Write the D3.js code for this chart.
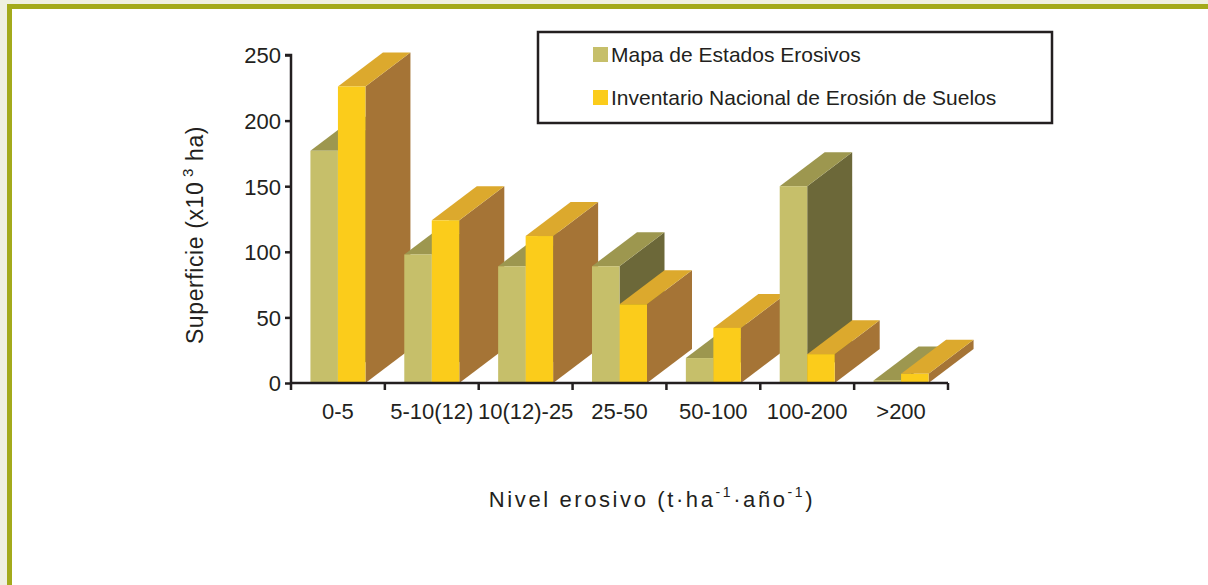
<!DOCTYPE html>
<html>
<head>
<meta charset="utf-8">
<script src="https://cdn.jsdelivr.net/npm/d3@7"></script>
<style>
  html, body { margin: 0; padding: 0; background: #eff0e1; }
  svg { display: block; font-family: "Liberation Sans", Arial, sans-serif; }
</style>
</head>
<body>
<svg id="chart" width="1208" height="585"></svg>
<script>
// Erosion classes (t·ha-1·año-1)
const categories = ["0-5", "5-10(12)", "10(12)-25", "25-50", "50-100", "100-200", ">200"];
// Surface area, thousands of ha
const mapaEstados = [177, 98, 89, 89, 19, 150, 2];
const inventario = [226, 124, 112, 60, 42, 22, 7];
const seriesNames = ["Mapa de Estados Erosivos", "Inventario Nacional de Erosión de Suelos"];
const yTicks = [0, 50, 100, 150, 200, 250];

const palette = [
  { front: "#c6bf6a", top: "#9d974f", side: "#6c6839" },
  { front: "#fbcc1b", top: "#dca92d", side: "#a57436" }
];

const svg = d3.select("#chart");

// page frame
svg.append("rect").attr("x", 0).attr("y", 0).attr("width", 1208).attr("height", 585).attr("fill", "#eff0e1");
svg.append("rect").attr("x", 7).attr("y", 4).attr("width", 1201).attr("height", 581).attr("fill", "#a3aa1b");
svg.append("rect").attr("x", 12).attr("y", 9).attr("width", 1196).attr("height", 576).attr("fill", "#ffffff");

const x0 = 291, x1 = 948, yBase = 383, yTop = 55;
const x = d3.scaleBand().domain(categories).range([x0, x1]).paddingInner(0).paddingOuter(0);
const y = d3.scaleLinear().domain([0, 250]).range([yBase, yTop]);
const groupW = 55;
const sub = d3.scaleBand().domain([0, 1]).range([0, groupW]).padding(0);
const depth = { dx: 45, dy: -34 };

const bars = svg.append("g");
categories.forEach((c, i) => {
  const vals = [mapaEstados[i], inventario[i]];
  const gx = x(c) + (x.bandwidth() - groupW) / 2;
  vals.forEach((v, s) => {
    const col = palette[s];
    const left = gx + sub(s);
    const right = left + sub.bandwidth();
    const top = y(v);
    const bottom = y(0);
    const g = bars.append("g");
    // side face
    g.append("path")
      .attr("d", `M${right},${bottom} L${right + depth.dx},${bottom + depth.dy} L${right + depth.dx},${top + depth.dy} L${right},${top} Z`)
      .attr("fill", col.side);
    // top face
    g.append("path")
      .attr("d", `M${left},${top} L${left + depth.dx},${top + depth.dy} L${right + depth.dx},${top + depth.dy} L${right},${top} Z`)
      .attr("fill", col.top);
    // front face
    g.append("rect")
      .attr("x", left).attr("y", top)
      .attr("width", right - left).attr("height", bottom - top)
      .attr("fill", col.front);
  });
});

// y axis
const yAxis = d3.axisLeft(y).tickValues(yTicks).tickSize(6).tickPadding(4);
const gy = svg.append("g").attr("transform", `translate(${x0},0)`).call(yAxis);
gy.select(".domain").attr("stroke", "#231f20").attr("stroke-width", 2.5).attr("d", `M-6,${yTop}H0V${yBase}`);
gy.selectAll(".tick line").attr("stroke", "#231f20").attr("stroke-width", 2.5);
gy.selectAll(".tick text").attr("fill", "#231f20").attr("font-size", 22).attr("dy", "0.36em");

// x axis
const xAxis = d3.axisBottom(x).tickSize(0).tickPadding(20);
const gx = svg.append("g").attr("transform", `translate(0,${yBase})`).call(xAxis);
gx.select(".domain").attr("stroke", "#231f20").attr("stroke-width", 2.5).attr("d", `M${x0},0H${x1}`);
gx.selectAll(".tick text").attr("fill", "#231f20").attr("font-size", 22).attr("dy", "0.71em");
const boundaries = categories.map(c => x(c)).concat([x1]);
gx.selectAll("line.bound").data(boundaries).enter().append("line")
  .attr("class", "bound")
  .attr("x1", d => d).attr("x2", d => d).attr("y1", 0).attr("y2", 7)
  .attr("stroke", "#231f20").attr("stroke-width", 2.5);

// y title
const yTitle = svg.append("text")
  .attr("transform", "translate(203,235) rotate(-90)")
  .attr("text-anchor", "middle").attr("fill", "#231f20").attr("font-size", 23)
  .attr("letter-spacing", 0.6);
yTitle.append("tspan").text("Superficie (x10");
yTitle.append("tspan").attr("font-size", 15).attr("dy", -10).text(" 3");
yTitle.append("tspan").attr("dy", 10).text(" ha)");

// x title
const xTitle = svg.append("text")
  .attr("x", 652).attr("y", 507)
  .attr("text-anchor", "middle").attr("fill", "#231f20").attr("font-size", 22)
  .attr("letter-spacing", 2.6);
xTitle.append("tspan").text("Nivel erosivo (t·ha");
xTitle.append("tspan").attr("font-size", 14).attr("dy", -10).text("-1");
xTitle.append("tspan").attr("dy", 10).text("·año");
xTitle.append("tspan").attr("font-size", 14).attr("dy", -10).text("-1");
xTitle.append("tspan").attr("dy", 10).text(")");

// legend
const lg = svg.append("g");
lg.append("rect").attr("x", 538).attr("y", 32).attr("width", 514).attr("height", 91)
  .attr("fill", "#ffffff").attr("stroke", "#231f20").attr("stroke-width", 2.5);
seriesNames.forEach((n, i) => {
  const cy = 54 + i * 43;
  lg.append("rect").attr("x", 593).attr("y", cy - 7).attr("width", 15).attr("height", 15)
    .attr("fill", palette[i].front);
  lg.append("text").attr("x", 611).attr("y", cy).attr("dy", "0.36em")
    .attr("fill", "#231f20").attr("font-size", 21).text(n);
});
</script>
</body>
</html>
